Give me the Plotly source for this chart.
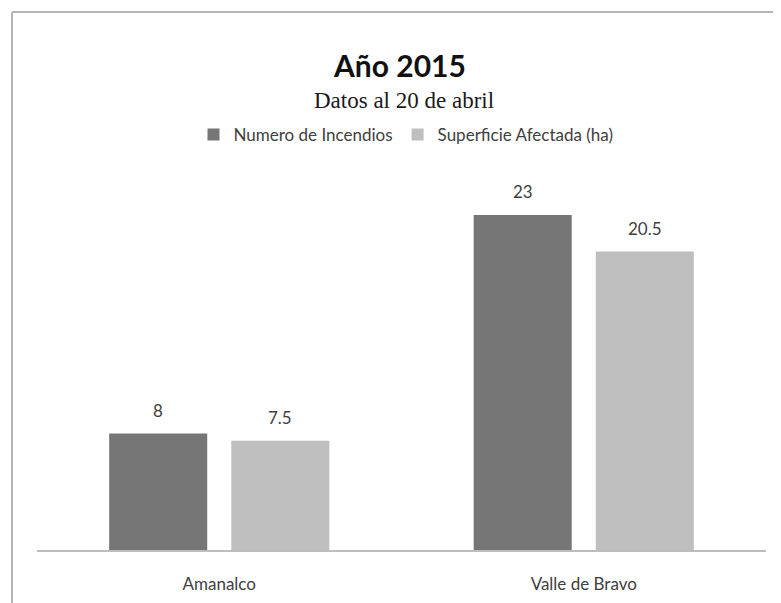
import plotly.graph_objects as go

categories = ["Amanalco", "Valle de Bravo"]
series_names = ["Numero de Incendios", "Superficie Afectada (ha)"]
incendios = [8, 23]
superficie = [7.5, 20.5]
label_incendios = ["8", "23"]
label_superficie = ["7.5", "20.5"]

DARK = "#767676"
LIGHT = "#bfbfbf"
TXT = "#404040"
SANS = "Lato, 'Open Sans', sans-serif"

# page is offset by the 8px body margin; layout numbers below are in figure px
W, H = 781, 603
L, R, T, B = 29, 23, 172, 61
PW, PH = W - L - R, H - T - B
def px(xp):  # figure x px -> paper
    return (xp - L) / PW
def py(yp):  # figure y px -> paper
    return (H - B - yp) / PH

fig = go.Figure()
fig.add_trace(go.Bar(x=categories, y=incendios, name=series_names[0],
                     marker=dict(color=DARK, line=dict(width=0))))
fig.add_trace(go.Bar(x=categories, y=superficie, name=series_names[1],
                     marker=dict(color=LIGHT, line=dict(width=0))))

for cat, v, t in zip(categories, incendios, label_incendios):
    fig.add_annotation(x=cat, y=v, text=t, showarrow=False, xshift=-61, yshift=11,
                       yanchor="bottom", font=dict(family=SANS, size=17, color=TXT))
for cat, v, t in zip(categories, superficie, label_superficie):
    fig.add_annotation(x=cat, y=v, text=t, showarrow=False, xshift=61, yshift=11,
                       yanchor="bottom", font=dict(family=SANS, size=17, color=TXT))

fig.add_annotation(text="Datos al 20 de abril", xref="paper", yref="paper",
                   x=px(395.5), y=py(93), showarrow=False, yanchor="middle",
                   font=dict(family="'Liberation Serif', 'DejaVu Serif', serif", size=23, color="#1a1a1a"))

# outer border (top and left)
fig.add_shape(type="line", xref="paper", yref="paper",
              x0=px(4), x1=px(790), y0=py(4), y1=py(4),
              line=dict(color="#b5b5b5", width=2))
fig.add_shape(type="line", xref="paper", yref="paper",
              x0=px(4), x1=px(4), y0=py(4), y1=py(620),
              line=dict(color="#b5b5b5", width=2))

fig.update_layout(
    width=W, height=H,
    margin=dict(l=L, r=R, t=T, b=B),
    paper_bgcolor="white", plot_bgcolor="white",
    barmode="group", bargap=0.33, bargroupgap=0.197,
    title=dict(text="<b>Año 2015</b>", x=392 / W, xanchor="center", y=1 - 58 / H, yanchor="middle",
               font=dict(family=SANS, size=30, color="#111111")),
    showlegend=True,
    legend=dict(orientation="h", x=px(398), xanchor="center", y=py(127), yanchor="middle",
                font=dict(family=SANS, size=17, color=TXT), itemwidth=30, traceorder="normal"),
    xaxis=dict(showline=True, linecolor="#bdbdbd", linewidth=2, ticks="",
               tickfont=dict(family=SANS, size=17, color=TXT), ticklabelstandoff=18,
               range=[-0.5, 1.5]),
    yaxis=dict(visible=False, range=[0, PH / 14.56], showgrid=False, zeroline=False),
)

fig.write_html("out.html")
